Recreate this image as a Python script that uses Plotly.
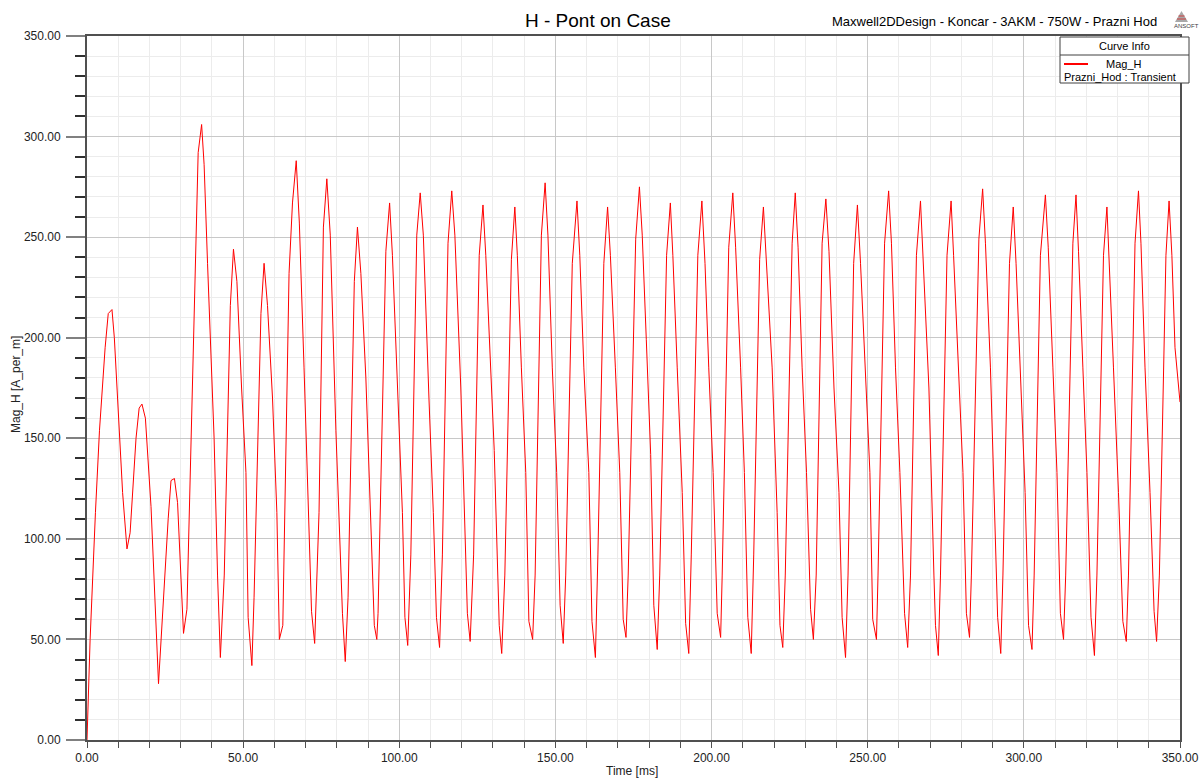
import plotly.graph_objects as go

# ---- data (vertices of the Mag_H curve) ----
time_ms = [
    0.0, 1.0, 2.7, 4.0, 5.8, 6.8, 8.0, 8.75, 11.4, 12.8, 13.8, 15.7, 16.7, 17.6, 18.7, 20.5,
    22.9, 24.2, 26.0, 26.9, 28.0, 29.0, 30.9, 32.0, 35.6, 36.7, 37.5, 38.6, 40.7, 41.8, 42.7,
    43.95, 45.9, 46.9, 48.0, 49.5, 50.9, 51.6, 52.8, 53.5, 55.7, 56.7, 57.8, 59.4, 60.8, 61.6,
    62.7, 64.7, 65.8, 67.0, 68.0, 69.5, 70.8, 71.9, 72.9, 74.3, 75.7, 76.8, 77.9, 79.7, 81.8,
    82.7, 83.6, 85.6, 86.6, 87.7, 89.3, 90.9, 92.0, 92.8, 93.2, 95.7, 96.9, 97.8, 99.4, 101.0,
    101.8, 102.7, 103.7, 105.6, 106.7, 107.7, 109.5, 110.9, 111.9, 112.9, 113.8, 115.6, 116.8,
    117.8, 119.7, 121.8, 122.7, 123.8, 125.6, 126.8, 127.7, 130.4, 132.0, 132.8, 133.8, 135.9,
    137.0, 137.8, 139.1, 140.5, 141.5, 142.7, 143.5, 145.5, 146.7, 147.6, 149.0, 150.4, 151.5,
    152.5, 153.3, 155.4, 156.9, 157.8, 159.1, 160.7, 161.7, 162.8, 163.6, 165.5, 166.7, 167.6,
    169.2, 170.6, 171.7, 172.6, 173.3, 175.7, 176.9, 177.8, 179.1, 180.5, 181.5, 182.6, 183.4,
    185.6, 186.8, 187.6, 189.0, 190.6, 191.7, 192.7, 193.5, 195.6, 196.9, 197.9, 199.1, 200.5,
    201.8, 202.9, 203.4, 205.5, 206.8, 207.7, 209.3, 210.5, 211.6, 212.7, 213.5, 215.4, 216.6,
    217.6, 219.4, 221.0, 221.9, 222.8, 223.6, 225.8, 226.8, 227.7, 229.0, 230.4, 231.7, 232.6,
    233.5, 235.4, 236.6, 237.6, 239.2, 240.8, 241.8, 242.9, 243.7, 245.5, 246.7, 247.7, 249.3,
    250.7, 251.6, 252.8, 253.3, 255.4, 256.7, 257.6, 258.9, 260.3, 261.8, 262.8, 263.7, 265.6,
    266.9, 268.0, 269.6, 271.2, 271.7, 272.6, 273.3, 275.4, 276.7, 277.5, 279.1, 280.5, 281.6,
    282.6, 283.2, 285.6, 286.8, 287.7, 289.3, 290.3, 291.6, 292.6, 293.3, 295.4, 296.6, 297.5,
    298.8, 300.4, 301.5, 302.6, 303.3, 305.3, 306.9, 307.8, 309.3, 310.6, 311.7, 312.7, 313.4,
    315.7, 316.7, 317.5, 318.9, 320.2, 321.5, 322.6, 323.4, 325.5, 326.6, 327.4, 328.7, 330.3,
    331.7, 332.8, 333.5, 335.6, 336.7, 337.5, 338.8, 340.4, 341.7, 342.5, 343.4, 345.5, 346.5,
    347.4, 348.4, 350.0,
]
mag_h = [
    0, 50, 113, 154, 195, 212, 214, 200, 123, 95, 103, 150, 165, 167, 160, 116,
    28, 65, 110, 129, 130, 118, 53, 65, 292, 306, 286, 237, 150, 82, 41,
    82, 216, 244, 228, 175, 133, 61, 37, 71, 212, 237, 216, 170, 113, 50,
    57, 232, 267, 288, 257, 185, 113, 64, 48, 113, 255, 279, 251, 154, 63,
    39, 71, 228, 255, 232, 180, 110, 57, 50, 63, 243, 267, 241, 175, 113,
    61, 47, 92, 251, 272, 251, 170, 113, 61, 46, 92, 247, 273,
    251, 175, 63, 49, 92, 241, 266, 241, 144, 57, 43, 82, 239,
    265, 241, 185, 133, 59, 50, 82, 251, 277, 251, 185, 133, 67,
    48, 82, 237, 268, 241, 185, 133, 59, 41, 92, 237, 265, 241,
    185, 133, 60, 51, 82, 249, 275, 251, 199, 142, 67, 45, 82,
    241, 267, 241, 185, 123, 58, 43, 92, 241, 268, 237, 185, 133,
    63, 51, 82, 245, 272, 245, 185, 133, 61, 43, 92, 239, 265,
    237, 185, 113, 57, 46, 82, 247, 272, 245, 185, 133, 65, 50,
    82, 247, 269, 243, 175, 123, 61, 41, 82, 237, 266, 237, 185,
    133, 60, 50, 82, 247, 273, 247, 185, 133, 63, 46, 82, 241,
    268, 232, 175, 82, 57, 42, 82, 241, 268, 241, 185, 133, 63,
    51, 82, 249, 274, 247, 185, 133, 61, 43, 82, 237, 265, 237,
    185, 123, 57, 45, 82, 241, 271, 245, 185, 133, 63, 50, 82,
    247, 271, 243, 185, 133, 61, 42, 82, 241, 265, 237, 185, 123,
    59, 49, 82, 247, 273, 247, 185, 123, 64, 49, 82, 241, 268,
    241, 195, 168,
]

title_text = "H - Pont on Case"
design_text = "Maxwell2DDesign - Koncar - 3AKM - 750W - Prazni Hod"
x_title = "Time [ms]"
y_title = "Mag_H [A_per_m]"
trace_name = "Mag_H"
solution_name = "Prazni_Hod : Transient"
legend_header = "Curve Info"

FONT = "Liberation Sans, Arial, sans-serif"

# pixel -> paper helpers (plot area spans x 87..1180, y 36..740)
L, R, T, B = 87, 1180, 36, 740
def px(x):
    return (x - L) / (R - L)
def py(y):
    return (B - y) / (B - T)

fig = go.Figure()
fig.add_trace(go.Scatter(
    x=time_ms, y=mag_h, mode="lines", name=trace_name,
    line=dict(color="#ff0000", width=1), showlegend=False,
    hoverinfo="x+y",
))

axis_common = dict(
    showline=True, mirror=True, linecolor="#505050", linewidth=2,
    zeroline=False, tickformat=".2f", automargin=False,
    tickfont=dict(family=FONT, size=12, color="#222222"),
    showgrid=True, gridcolor="#c8c8c8", gridwidth=1,
)

fig.update_xaxes(
    range=[0, 350], dtick=50, tick0=0, ticks="outside", ticklen=6,
    tickcolor="#505050", tickwidth=1,
    minor=dict(dtick=10, ticks="outside", ticklen=6, tickcolor="#505050",
               showgrid=True, gridcolor="#ececec", gridwidth=1),
    **axis_common,
)
fig.update_yaxes(
    range=[0, 350], dtick=50, tick0=0, ticks="outside", ticklen=19,
    tickcolor="#808080", tickwidth=2, ticklabelstandoff=3,
    minor=dict(dtick=10, ticks="outside", ticklen=10, tickcolor="#303030",
               showgrid=True, gridcolor="#ececec", gridwidth=1),
    **axis_common,
)

shapes = [
    # legend box
    dict(type="rect", xref="paper", yref="paper", x0=px(1060), x1=px(1189),
         y0=py(83), y1=py(37), line=dict(color="#404040", width=1),
         fillcolor="white", layer="above"),
    dict(type="line", xref="paper", yref="paper", x0=px(1060), x1=px(1189),
         y0=py(55), y1=py(55), line=dict(color="#404040", width=1), layer="above"),
    dict(type="line", xref="paper", yref="paper", x0=px(1064), x1=px(1088),
         y0=py(64), y1=py(64), line=dict(color="#ff0000", width=2), layer="above"),
    # ANSOFT logo (small striped triangle)
    dict(type="path", xref="paper", yref="paper",
         path=f"M {px(1175)},{py(22)} L {px(1188)},{py(22)} L {px(1181.5)},{py(11)} Z",
         fillcolor="#a8a8a8", line=dict(width=0), layer="above"),
    dict(type="line", xref="paper", yref="paper", x0=px(1177), x1=px(1186),
         y0=py(19), y1=py(19), line=dict(color="#d04040", width=1), layer="above"),
    dict(type="line", xref="paper", yref="paper", x0=px(1178.5), x1=px(1184.5),
         y0=py(16), y1=py(16), line=dict(color="#d04040", width=1), layer="above"),
]

annotations = [
    dict(text=title_text, xref="paper", yref="paper", x=px(598), y=py(20),
         xanchor="center", yanchor="middle", showarrow=False,
         font=dict(family=FONT, size=19, color="#000000")),
    dict(text=design_text, xref="paper", yref="paper", x=px(1159), y=py(21),
         xanchor="right", yanchor="middle", showarrow=False,
         font=dict(family=FONT, size=13, color="#000000")),
    dict(text="ANSOFT", xref="paper", yref="paper", x=px(1186), y=py(26),
         xanchor="center", yanchor="middle", showarrow=False,
         font=dict(family=FONT, size=6, color="#404040")),
    dict(text=x_title, xref="paper", yref="paper", x=px(632), y=py(771),
         xanchor="center", yanchor="middle", showarrow=False,
         font=dict(family=FONT, size=12, color="#222222")),
    dict(text=y_title, xref="paper", yref="paper", x=px(16), y=py(385),
         xanchor="center", yanchor="middle", showarrow=False, textangle=-90,
         font=dict(family=FONT, size=12, color="#222222")),
    dict(text=legend_header, xref="paper", yref="paper", x=px(1124.5), y=py(46),
         xanchor="center", yanchor="middle", showarrow=False,
         font=dict(family=FONT, size=11, color="#000000")),
    dict(text=trace_name, xref="paper", yref="paper", x=px(1104), y=py(64),
         xanchor="left", yanchor="middle", showarrow=False,
         font=dict(family=FONT, size=11, color="#000000")),
    dict(text=solution_name, xref="paper", yref="paper", x=px(1062), y=py(77),
         xanchor="left", yanchor="middle", showarrow=False,
         font=dict(family=FONT, size=11, color="#000000")),
]

fig.update_layout(
    template="none",
    width=1199, height=778,
    margin=dict(l=L, r=1199 - R, t=T, b=778 - B, pad=0, autoexpand=False),
    paper_bgcolor="white", plot_bgcolor="white",
    font=dict(family=FONT, color="#222222"),
    shapes=shapes, annotations=annotations,
    showlegend=False,
)

fig.write_html(
    "out.html",
    config={"displayModeBar": False},
    post_script="document.body.style.margin='0';document.body.style.overflow='hidden';",
)
